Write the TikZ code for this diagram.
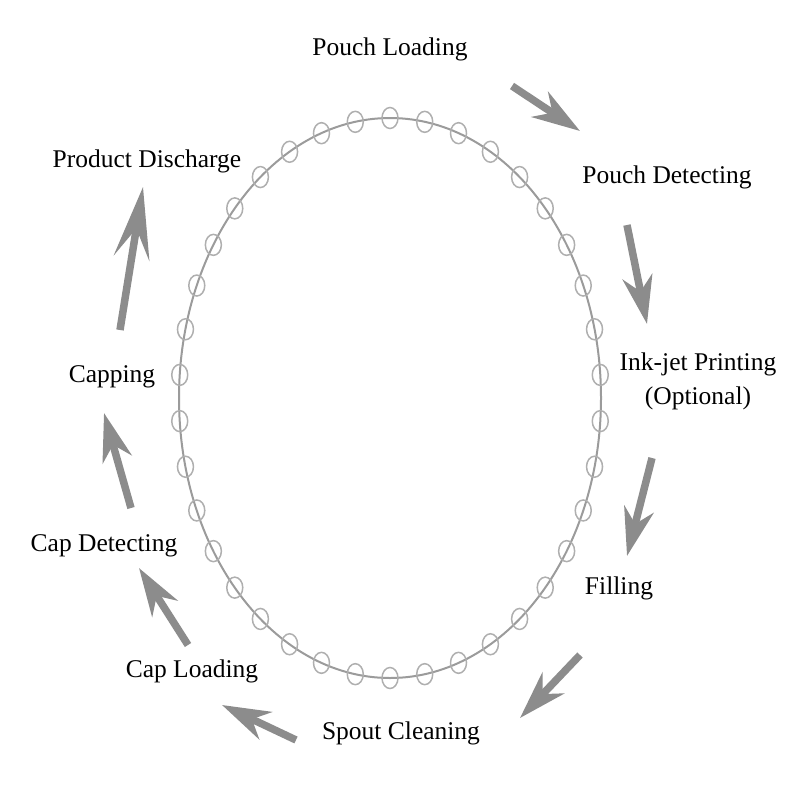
\documentclass[tikz,border=0pt]{standalone}
\usepackage{fontspec}
\setmainfont{Liberation Serif}
\usetikzlibrary{arrows.meta}

\definecolor{ringgray}{RGB}{155,155,155}
\definecolor{lugray}{RGB}{175,175,175}
\definecolor{arrowgray}{RGB}{140,140,140}

\tikzset{
  lbl/.style={font=\fontsize{25.5}{30}\selectfont, inner sep=0pt},
  flow/.style={draw=arrowgray, line width=7.5pt,
    -{Stealth[length=48pt,width=30pt,inset=15pt]}},
  longflow/.style={flow, -{Stealth[length=72pt,width=36pt,inset=30pt]}}
}

\begin{document}
\begin{tikzpicture}[x=1pt,y=-1pt]
  \useasboundingbox (0,0) rectangle (800,800);
  % carousel
  \draw[ringgray, line width=2pt] (390,398) ellipse [x radius=211, y radius=280];
  \foreach \i in {0,...,37}
    \draw[lugray, line width=1.5pt]
      ({390+211*cos(90-\i*360/38)},{398-280*sin(90-\i*360/38)})
      ellipse [x radius=8, y radius=10.5];
  % stations
  \node[lbl] (load)   at (390,49)  {Pouch Loading};
  \node[lbl] (detect) at (667,177) {Pouch Detecting};
  \node[lbl,align=center] (ink) at (698,381) {Ink-jet Printing\\[4pt](Optional)};
  \node[lbl] (fill)   at (619,588) {Filling};
  \node[lbl] (spout)  at (401,733) {Spout Cleaning};
  \node[lbl] (caplo)  at (192,671) {Cap Loading};
  \node[lbl] (capde)  at (104,546) {Cap Detecting};
  \node[lbl] (capp)   at (112,377) {Capping};
  \node[lbl] (disch)  at (147,161) {Product Discharge};
  % arrow ends
  \coordinate (a1) at (512,86);  \coordinate (b1) at (580,131);
  \coordinate (a2) at (627,225); \coordinate (b2) at (647,324);
  \coordinate (a3) at (652,458); \coordinate (b3) at (627,556);
  \coordinate (a4) at (580,655); \coordinate (b4) at (520,718);
  \coordinate (a5) at (296,740); \coordinate (b5) at (222,705);
  \coordinate (a6) at (188,645); \coordinate (b6) at (139,568);
  \coordinate (a7) at (131,508); \coordinate (b7) at (104,413);
  \coordinate (a8) at (120,330); \coordinate (b8) at (143,187);
  \foreach \k in {1,...,7}
    \draw[flow] (a\k) -- (b\k);
  \draw[longflow] (a8) -- (b8);
\end{tikzpicture}
\end{document}
